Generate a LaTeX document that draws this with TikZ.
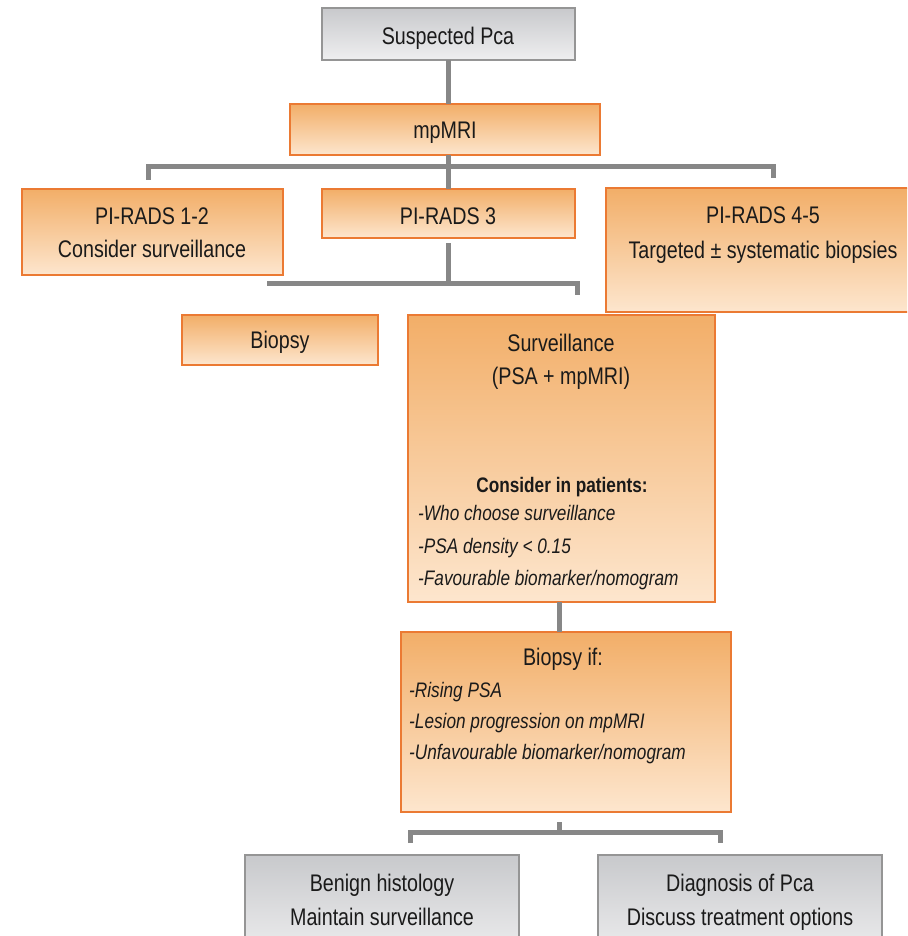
\documentclass[tikz,border=0pt]{standalone}
\usepackage{fontspec}
\setmainfont{Liberation Sans}[FakeStretch=0.82]
\definecolor{ortop}{HTML}{F2AE68}
\definecolor{orbot}{HTML}{FDE6CE}
\definecolor{orline}{HTML}{EB7A33}
\definecolor{grtop}{HTML}{C8C9CC}
\definecolor{grbot}{HTML}{EFEFF0}
\definecolor{grline}{HTML}{959595}
\definecolor{conncol}{HTML}{878787}
\definecolor{txtcol}{HTML}{1A1A1A}
\tikzset{
  obox/.style={draw=orline, line width=1.3pt, top color=ortop, bottom color=orbot, inner sep=0pt, rectangle},
  gbox/.style={draw=grline, line width=1.3pt, top color=grtop, bottom color=grbot, inner sep=0pt, rectangle},
  conn/.style={draw=conncol, line width=5pt},
  big/.style={font=\fontsize{24}{28}\selectfont, text=txtcol, inner sep=0pt, anchor=base},
  small/.style={font=\fontsize{21}{25}\selectfont\itshape, text=txtcol, inner sep=0pt, anchor=base west},
  smallb/.style={font=\fontsize{21}{25}\selectfont\bfseries, text=txtcol, inner sep=0pt, anchor=base}
}
\begin{document}
\begin{tikzpicture}[x=1pt,y=-1pt]
\useasboundingbox (0,0) rectangle (907,936);
\clip (0,0) rectangle (907,936);
\fill[white] (0,0) rectangle (907,936);

% boxes
\node[gbox, minimum width=253pt, minimum height=52pt] (sus) at (448.5,34) {};
\node[obox, minimum width=310pt, minimum height=51pt] (mri) at (445,129.5) {};
\node[obox, minimum width=261pt, minimum height=86pt] (pr12) at (152.5,232) {};
\node[obox, minimum width=253pt, minimum height=49pt] (pr3) at (448.5,213.5) {};
\node[obox, minimum width=314pt, minimum height=124pt] (pr45) at (763,250) {};
\node[obox, minimum width=196pt, minimum height=50pt] (bio) at (280,340) {};
\node[obox, minimum width=307pt, minimum height=287pt] (surv) at (561.5,458.5) {};
\node[obox, minimum width=330pt, minimum height=180pt] (bif) at (566,722) {};
\node[gbox, minimum width=274pt, minimum height=105pt] (ben) at (382,907.5) {};
\node[gbox, minimum width=284pt, minimum height=105pt] (dia) at (740,907.5) {};

% connector coordinates
\coordinate (c1) at (448,60);
\coordinate (c2) at (448,104);
\coordinate (c3) at (448,155);
\coordinate (c4) at (448,189);
\coordinate (l1) at (148,180);
\coordinate (l2) at (148,167);
\coordinate (r2) at (773,167);
\coordinate (r1) at (773,178);
\coordinate (d1) at (448,243);
\coordinate (d2) at (448,283);
\coordinate (d3) at (267,283);
\coordinate (d4) at (577,283);
\coordinate (d5) at (577,295);
\coordinate (s1) at (559,602);
\coordinate (s2) at (559,632);
\coordinate (e1) at (559,822);
\coordinate (e2) at (559,832);
\coordinate (e3) at (410,832);
\coordinate (e4) at (410,843);
\coordinate (e5) at (720,832);
\coordinate (e6) at (720,843);

\draw[conn] (c1) -- (c2);
\draw[conn] (c3) -- (c4);
\draw[conn] (l1) -- (l2) -- (r2) -- (r1);
\draw[conn] (d1) -- (d2);
\draw[conn] (d3) -- (d4) -- (d5);
\draw[conn] (s1) -- (s2);
\draw[conn] (e1) -- (e2);
\draw[conn] (e4) -- (e3) -- (e5) -- (e6);

% texts
\node[big] (t1) at (448,45) {Suspected Pca};
\node[big] (t2) at (445,139) {mpMRI};
\node[big] (t3) at (152,224) {PI-RADS 1-2};
\node[big] (t4) at (152,257) {Consider surveillance};
\node[big] (t5) at (448,224) {PI-RADS 3};
\node[big] (t6) at (763,223) {PI-RADS 4-5};
\node[big] (t7) at (763,258) {Targeted ± systematic biopsies};
\node[big] (t8) at (280,348) {Biopsy};
\node[big] (t9) at (561,351) {Surveillance};
\node[big] (t10) at (561,384) {(PSA + mpMRI)};
\node[smallb] (t11) at (562,492) {Consider in patients:};
\node[small] (t12) at (418,520) {-Who choose surveillance};
\node[small] (t13) at (418,553) {-PSA density < 0.15};
\node[small] (t14) at (418,585) {-Favourable biomarker/nomogram};
\node[big] (t15) at (563,665) {Biopsy if:};
\node[small] (t16) at (409,697) {-Rising PSA};
\node[small] (t17) at (409,728) {-Lesion progression on mpMRI};
\node[small] (t18) at (409,759) {-Unfavourable biomarker/nomogram};
\node[big] (t19) at (382,891) {Benign histology};
\node[big] (t20) at (382,925) {Maintain surveillance};
\node[big] (t21) at (740,891) {Diagnosis of Pca};
\node[big] (t22) at (740,925) {Discuss treatment options};
\end{tikzpicture}
\end{document}
